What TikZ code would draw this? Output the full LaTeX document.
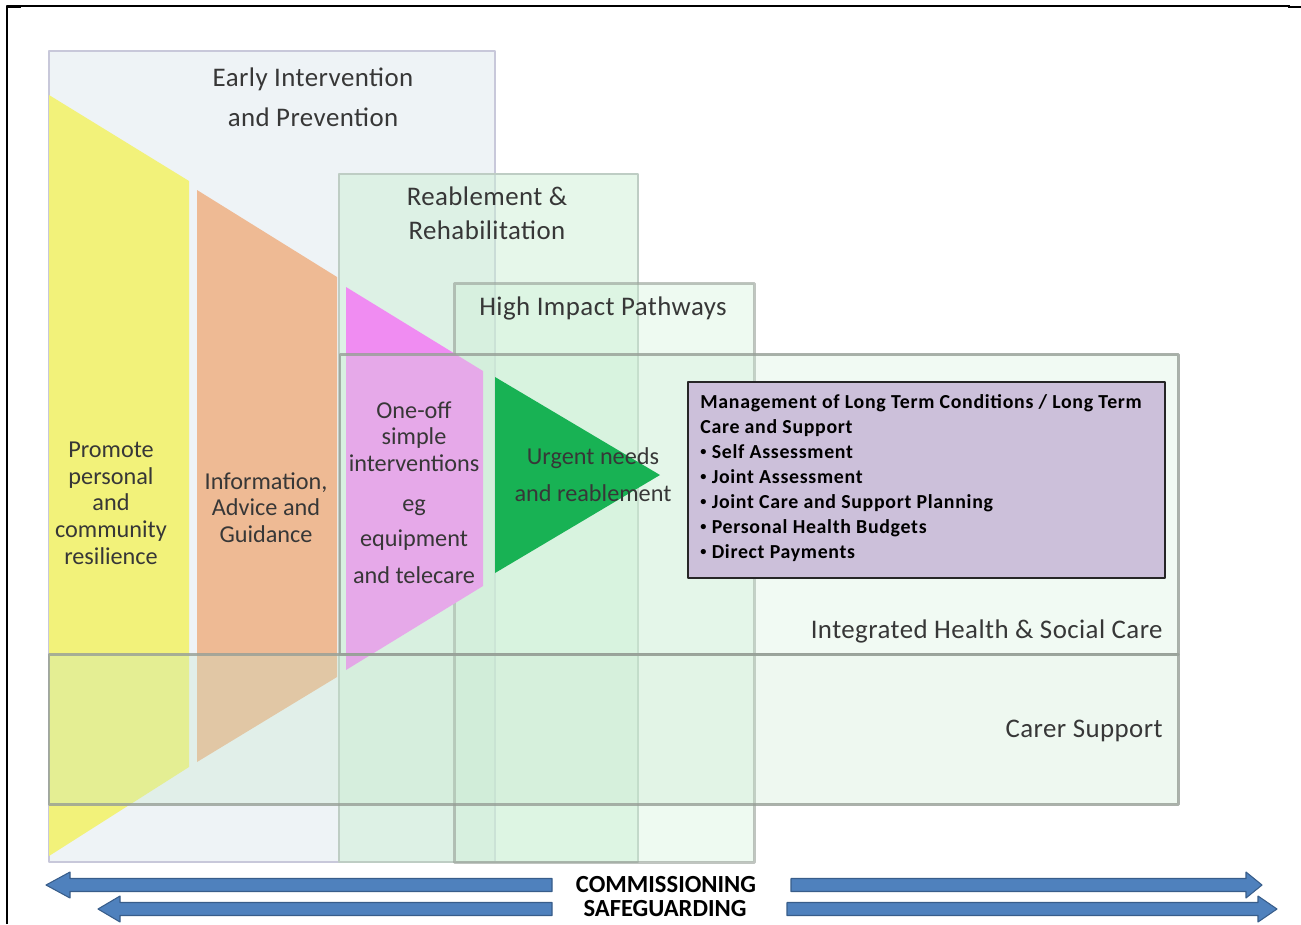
\documentclass[tikz,border=0pt]{standalone}
\usepackage{fontspec}
\setmainfont{Carlito}
\newfontfamily\widefont[LetterSpace=1.6]{Carlito}
\newfontfamily\ltcfont[LetterSpace=3.5]{Carlito}
\usetikzlibrary{positioning}

\definecolor{earlyfill}{RGB}{238,243,246}
\definecolor{earlyline}{RGB}{200,200,218}
\definecolor{reablefill}{RGB}{205,240,214}
\definecolor{paleline}{RGB}{190,205,196}
\definecolor{bandfill}{RGB}{207,238,215}
\definecolor{carerfill}{RGB}{198,232,205}
\definecolor{bandline}{RGB}{150,158,150}
\definecolor{promote}{RGB}{242,242,122}
\definecolor{advice}{RGB}{238,186,148}
\definecolor{oneoff}{RGB}{240,140,242}
\definecolor{urgent}{RGB}{24,178,84}
\definecolor{ltcfill}{RGB}{204,192,218}
\definecolor{arrowfill}{RGB}{79,129,189}
\definecolor{arrowline}{RGB}{56,93,138}
\definecolor{labeltext}{RGB}{55,55,55}

\newcommand{\ltcbullet}{\raisebox{1.6pt}{\fontsize{7}{7}\selectfont •}\hspace{3pt}}

\tikzset{
  early/.style={fill=earlyfill, draw=earlyline, line width=0.6pt},
  reable/.style={fill=reablefill, fill opacity=0.5, draw=paleline, line width=0.6pt},
  pathway/.style={fill=reablefill, fill opacity=0.35, draw=bandline, draw opacity=0.6, line width=1.7pt},
  band/.style={fill=bandfill, fill opacity=0.3, draw=bandline, draw opacity=0.8, line width=1.7pt},
  title/.style={font=\widefont\fontsize{15.3}{22.8}\selectfont, text=labeltext, align=center, inner sep=0pt},
  stage/.style={font=\fontsize{13.8}{15.1}\selectfont, text=labeltext, align=center, inner sep=0pt},
  ltclist/.style={font=\ltcfont\fontsize{11.3}{14.2}\selectfont\bfseries, align=left, inner sep=0pt},
  banner/.style={font=\fontsize{14}{14}\selectfont\bfseries, inner sep=0pt},
  fatarrow/.style={fill=arrowfill, draw=arrowline, line width=0.6pt},
}

\begin{document}
\begin{tikzpicture}[x=0.02cm, y=-0.02cm, line join=round]
  \useasboundingbox (0,0) rectangle (1301,924);
  \path
  (49,51) coordinate (E1) (495,862) coordinate (E2)
  (339,174) coordinate (R1) (638,862) coordinate (R2)
  (454,283) coordinate (H1) (754,862) coordinate (H2)
  (340,354) coordinate (I1) (1178,654) coordinate (I2)
  (49,654) coordinate (C1) (1178,804) coordinate (C2)
  (688,382) coordinate (L1) (1165,578) coordinate (L2)
  ;
  \draw[line width=1pt] (7,924) -- (7,6) -- (1290,6);
  \draw[line width=1.6pt] (7,6.8) -- (21,6.8) (1288,7) -- (1301,7);

  \draw[early] (E1) rectangle (E2);
  \draw[reable] (R1) rectangle (R2);
  \draw[pathway] (H1) rectangle (H2);

  \fill[promote] (49,95) -- (189,181) -- (189,767) -- (49,856) -- cycle;
  \fill[advice] (197,190) -- (337,277) -- (337,677) -- (197,762) -- cycle;
  \fill[oneoff] (346,287) -- (483,371) -- (483,586) -- (346,670) -- cycle;

  \draw[band] (I1) rectangle (I2);
  \draw[band, fill=carerfill] (C1) rectangle (C2);
  \fill[urgent] (495,377) -- (660,475) -- (495,573) -- cycle;

  \node[title, anchor=north] (early) at (313,67) {Early Intervention\\and Prevention};
  \node[title, anchor=north, font=\widefont\fontsize{15.3}{19.4}\selectfont] (reable) at (487,186) {Reablement \&\\Rehabilitation};
  \node[title, anchor=north] (pathways) at (603,296) {High Impact Pathways};
  \node[title, anchor=base east] (integrated) at (1163,638) {Integrated Health \& Social Care};
  \node[title, anchor=base east] (carer) at (1163,737) {Carer Support};

  \node[stage, anchor=north] (promote) at (111,442) {Promote\\personal\\and\\community\\resilience};
  \node[stage, anchor=north] (advice) at (266,472) {Information,\\Advice and\\Guidance};
  \node[stage, anchor=north] (oneoff) at (414,401) {One-off\\simple\\interventions\\[7.7pt]eg\\[4.8pt]equipment\\[6pt]and telecare};
  \node[stage, anchor=north, font=\fontsize{13.8}{21}\selectfont] (urgent) at (593,447) {Urgent needs\\and reablement};

  \fill[ltcfill, draw=black!85, line width=0.6pt] (L1) rectangle (L2);
  \node[ltclist, anchor=north west] (ltc) at (700,394) {Management of Long Term Conditions / Long Term\\Care and Support\\\ltcbullet Self Assessment\\\ltcbullet Joint Assessment\\\ltcbullet Joint Care and Support Planning\\\ltcbullet Personal Health Budgets\\\ltcbullet Direct Payments};

  \foreach \tail/\tip/\yy/\len in {552/46/885/24, 552/98/909/22, 791/1262/885/-16, 787/1277/909/-19}{
    \filldraw[fatarrow] (\tail,{\yy-6.5}) -- ({\tip+\len},{\yy-6.5}) -- ({\tip+\len},{\yy-13})
      -- (\tip,\yy) -- ({\tip+\len},{\yy+13}) -- ({\tip+\len},{\yy+6.5}) -- (\tail,{\yy+6.5}) -- cycle;
  }
  \node[banner] (commissioning) at (666,885) {COMMISSIONING};
  \node[banner] (safeguarding) at (665,909) {SAFEGUARDING};
\end{tikzpicture}
\end{document}
